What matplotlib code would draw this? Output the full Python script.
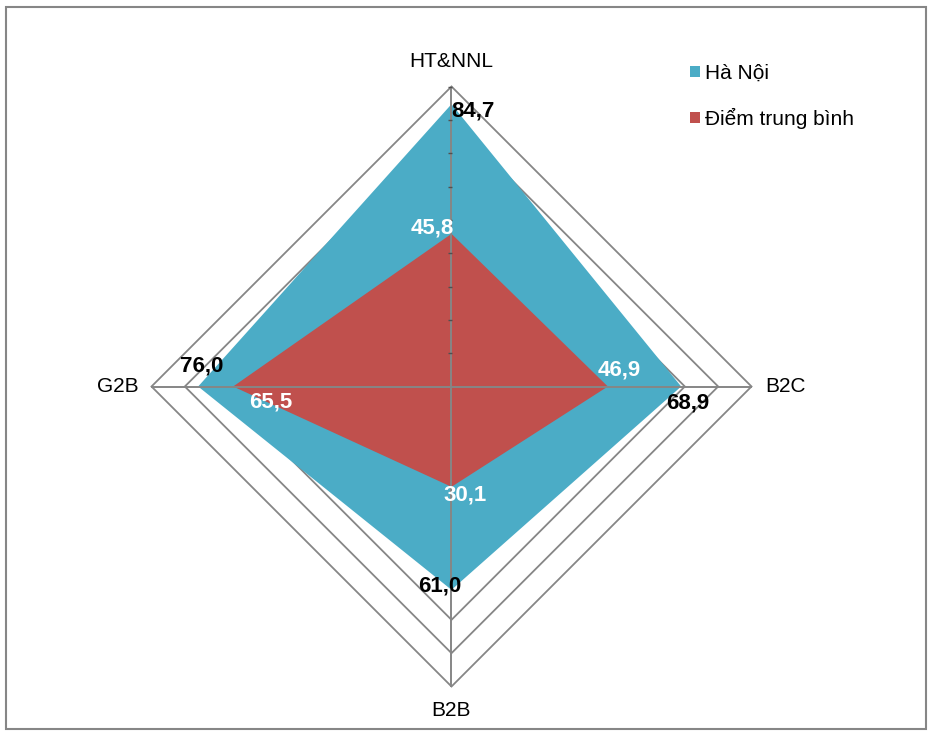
import numpy as np
import matplotlib
matplotlib.use("Agg")
import matplotlib.pyplot as plt
from matplotlib.patches import Polygon, Rectangle, Patch

plt.rcParams['font.family'] = ['Liberation Sans', 'DejaVu Sans']

# Categories clockwise from the top
categories = ["HT&NNL", "B2C", "B2B", "G2B"]
ha_noi = [84.7, 68.9, 61.0, 76.0]
diem_tb = [45.8, 46.9, 30.1, 65.5]
series_names = ["Hà Nội", "Điểm trung bình"]
grid_levels = [10, 20, 30, 40, 50, 60, 70, 80, 90]
r_max = 90

c_hn = "#4BACC6"
c_tb = "#C0504D"
c_grid = "#868686"

W, H, DPI = 929, 731, 100
fig = plt.figure(figsize=(W / DPI, H / DPI), dpi=DPI)
ax = fig.add_axes([0, 0, 1, 1])
ax.set_axis_off()

# pixel layout of the radar: centre and outer radius
cx, cy, R = 451.5, 386.5, 300.0
u = R / r_max  # pixels per unit
ax.set_xlim(-cx / u, (W - cx) / u)
ax.set_ylim(-(H - cy) / u, cy / u)

dirs = np.array([[0, 1], [1, 0], [0, -1], [-1, 0]], dtype=float)

def pts(vals):
    return dirs * np.asarray(vals, dtype=float)[:, None]

# grid diamonds (underneath the filled series)
for lv in grid_levels:
    p = pts([lv] * 4)
    ax.add_patch(Polygon(p, closed=True, fill=False, edgecolor=c_grid,
                         lw=1.3, zorder=1))

# filled series
ax.add_patch(Polygon(pts(ha_noi), closed=True, facecolor=c_hn,
                     edgecolor="none", zorder=2))
ax.add_patch(Polygon(pts(diem_tb), closed=True, facecolor=c_tb,
                     edgecolor="none", zorder=3))

# spokes drawn over the fills
for d in dirs:
    ax.plot([0, d[0] * r_max], [0, d[1] * r_max], color=c_grid, lw=1.4,
            zorder=4, solid_capstyle="butt")

# small tick marks on the vertical axis
ax.plot([-0.55] * len(grid_levels), grid_levels, linestyle="none",
        marker="_", ms=2.5, mew=1.0, color="#505050", zorder=5)

# category labels
cat_offsets = [(0, 24.7, "center", "center"), (13.5, 0, "left", "center"),
               (0, -24.5, "center", "center"), (-12.5, 0, "right", "center")]
for name, d, (ox, oy, ha, va) in zip(categories, dirs, cat_offsets):
    ax.annotate(name, xy=d * r_max, xytext=(ox * 0.72, oy * 0.72),
                textcoords="offset points", ha=ha, va=va, fontsize=15,
                color="black", zorder=6)

def fmt(v):
    return f"{v:.1f}".replace(".", ",")

# value labels (offsets in pixels)
hn_off = [(21.5, -7), (7, -16.5), (-11.5, 4), (4, 20.5)]
tb_off = [(-19, 6), (11, 16.5), (13.5, -8.5), (38, -15)]
for vals, offs, col in ((ha_noi, hn_off, "black"), (diem_tb, tb_off, "white")):
    for v, d, (ox, oy) in zip(vals, dirs, offs):
        ax.annotate(fmt(v), xy=d * v, xytext=(ox * 0.72, oy * 0.72),
                    textcoords="offset points", ha="center", va="center",
                    fontsize=16, fontweight="bold", color=col, zorder=7)

# legend
handles = [Patch(facecolor=c_hn, edgecolor="none"),
           Patch(facecolor=c_tb, edgecolor="none")]
leg = fig.legend(handles, series_names, loc="upper left",
                 bbox_to_anchor=(690 / W, 1 - 64 / H), frameon=False,
                 fontsize=15, handlelength=0.48, handleheight=0.48,
                 handletextpad=0.25, labelspacing=1.2, borderpad=0,
                 borderaxespad=0)

# outer frame
fig.add_artist(Rectangle((6 / W, 2 / H), 920 / W, 722 / H,
                         transform=fig.transFigure, fill=False,
                         edgecolor=c_grid, lw=1.5))

fig.savefig("out.png", dpi=DPI)
